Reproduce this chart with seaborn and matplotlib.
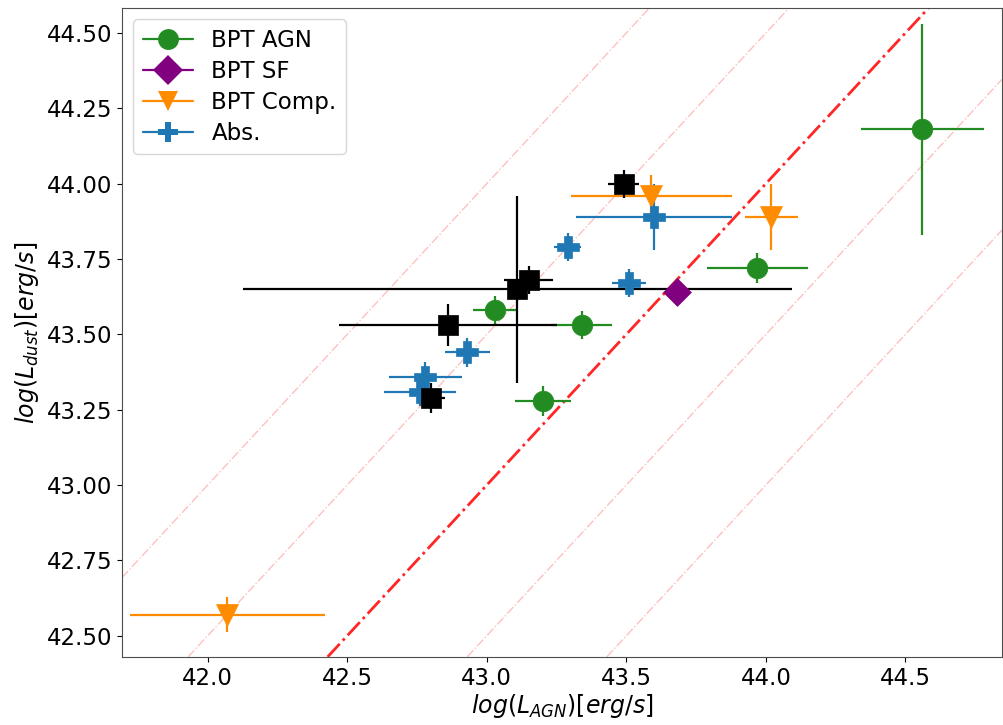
import matplotlib
matplotlib.use("Agg")
import matplotlib.pyplot as plt
from matplotlib.lines import Line2D
import seaborn as sns
import pandas as pd

# BPT AGN
agn_x = [44.56, 43.97, 43.34, 43.03, 43.20]
agn_y = [44.18, 43.72, 43.53, 43.58, 43.28]
agn_xerr = [0.22, 0.18, 0.11, 0.08, 0.10]
agn_yerr = [0.35, 0.05, 0.047, 0.047, 0.05]

# BPT SF
sf_x = [43.68]
sf_y = [43.64]

# BPT Comp.
comp_x = [42.07, 43.59, 44.02]
comp_y = [42.57, 43.96, 43.89]
comp_xerr = [0.35, 0.29, 0.095]
comp_yerr = [0.058, 0.07, 0.11]

# Abs.
abs_x = [43.60, 43.29, 43.51, 42.93, 42.78, 42.76]
abs_y = [43.89, 43.79, 43.67, 43.44, 43.36, 43.31]
abs_xerr = [0.28, 0.048, 0.06, 0.08, 0.13, 0.13]
abs_yerr = [0.11, 0.045, 0.047, 0.047, 0.047, 0.047]

# unclassified (black)
oth_x = [43.49, 43.15, 43.11, 42.86, 42.80]
oth_y = [44.00, 43.68, 43.65, 43.53, 43.29]
oth_xerr = [0.057, 0.087, 0.985, 0.39, 0.05]
oth_yerr = [0.047, 0.047, 0.31, 0.07, 0.05]

# offsets of the reference lines y = x + off
line_offsets = [0.0, 0.5, -0.5, 1.0, -1.0]

sns.set_style("ticks")
plt.rcParams['font.family'] = ['DejaVu Sans']
plt.rcParams['mathtext.fontset'] = 'dejavusans'
plt.rcParams['text.color'] = 'black'
plt.rcParams['axes.labelcolor'] = 'black'
plt.rcParams['xtick.color'] = 'black'
plt.rcParams['ytick.color'] = 'black'

fig, ax = plt.subplots(figsize=(10.04, 7.25), dpi=100)
fig.subplots_adjust(left=0.1215, right=0.998, top=0.989, bottom=0.094)

for off in line_offsets:
    if off == 0:
        ax.axline((42.0, 42.0 + off), slope=1, color='red', ls='-.', lw=2, alpha=0.85, zorder=1)
    else:
        ax.axline((42.0, 42.0 + off), slope=1, color='red', ls='-.', lw=1, alpha=0.25, zorder=1)

groups = [
    ("BPT AGN", agn_x, agn_y, agn_xerr, agn_yerr, "forestgreen", "o", 220),
    ("BPT SF", sf_x, sf_y, None, None, "purple", "D", 200),
    ("BPT Comp.", comp_x, comp_y, comp_xerr, comp_yerr, "darkorange", "v", 250),
    ("Abs.", abs_x, abs_y, abs_xerr, abs_yerr, "#1f77b4", "P", 260),
    (None, oth_x, oth_y, oth_xerr, oth_yerr, "black", "s", 220),
]

handles = []
for label, x, y, xe, ye, c, m, s in groups:
    if xe is not None:
        ax.errorbar(x, y, xerr=xe, yerr=ye, fmt='none', ecolor=c, elinewidth=1.6, zorder=2)
    df = pd.DataFrame({"x": x, "y": y})
    sns.scatterplot(data=df, x="x", y="y", ax=ax, color=c, marker=m, s=s,
                    edgecolor=c, linewidth=0.5, zorder=3)
    if label:
        handles.append(Line2D([], [], color=c, marker=m, markersize=15, lw=1.6,
                              markeredgewidth=0, label=label))

ax.set_xlim(41.693, 44.846)
ax.set_ylim(42.43, 44.583)
ax.set_xticks([42.0, 42.5, 43.0, 43.5, 44.0, 44.5])
ax.set_yticks([42.50, 42.75, 43.00, 43.25, 43.50, 43.75, 44.00, 44.25, 44.50])
ax.set_yticklabels([f"{v:.2f}" for v in ax.get_yticks()])
ax.tick_params(labelsize=16.5)
for sp in ax.spines.values():
    sp.set_visible(True)
    sp.set_color('0.3')

ax.set_xlabel(r'$log(L_{AGN})[erg/s]$', fontsize=17, labelpad=2)
ax.set_ylabel(r'$log(L_{dust})[erg/s]$', fontsize=17, labelpad=4)
ax.legend(handles=handles, loc='upper left', fontsize=16.5, frameon=True,
          handlelength=2.2, borderpad=0.4, labelspacing=0.35)

fig.savefig("out.png", dpi=100)
